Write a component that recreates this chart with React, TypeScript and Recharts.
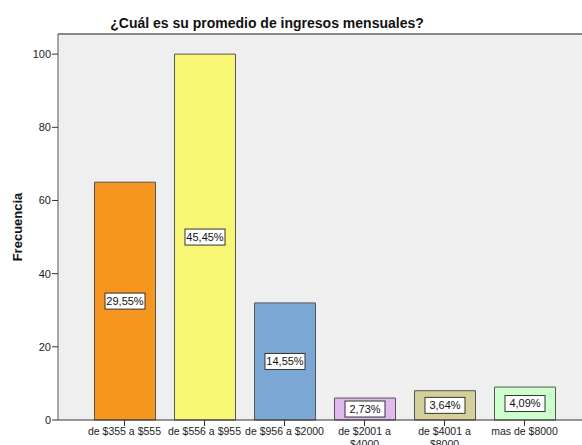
import React from 'react';
import { BarChart, Bar, XAxis, YAxis, CartesianGrid, Cell, LabelList, ReferenceLine } from 'recharts';

const categories = [
  'de $355 a $555',
  'de $556 a $955',
  'de $956 a $2000',
  'de $2001 a $4000',
  'de $4001 a $8000',
  'mas de $8000',
];
const frequencies = [65, 100, 32, 6, 8, 9];
const barColors = ['#F7961E', '#F9F675', '#7BA7D5', '#E0B9EF', '#D5CF99', '#CCFFCC'];
const yTicks = [0, 20, 40, 60, 80, 100];

const total = frequencies.reduce((a, b) => a + b, 0);
const data = categories.map((name, i) => ({
  name,
  value: frequencies[i],
  pct: ((frequencies[i] / total) * 100).toFixed(2).replace('.', ',') + '%',
}));

const FONT = '"Liberation Sans", Arial, sans-serif';

const XTick = (props: any) => {
  const { x, y, payload } = props;
  const words = String(payload.value).split(' ');
  const lines = payload.value.length > 15
    ? [words.slice(0, -1).join(' '), words[words.length - 1]]
    : [payload.value];
  return (
    <text x={x} y={y} textAnchor="middle" fontSize={10.5} fill="#222" fontFamily={FONT}>
      {lines.map((l: string, i: number) => (
        <tspan key={i} x={x} dy={i === 0 ? '0.71em' : '1.15em'}>{l}</tspan>
      ))}
    </text>
  );
};

const PctLabel = (props: any) => {
  const { x, y, width, height, index } = props;
  const cx = x + width / 2;
  const cy = y + height / 2;
  const w = 40;
  const h = 16;
  return (
    <g>
      <rect x={cx - w / 2} y={cy - h / 2} width={w} height={h} fill="#fff" stroke="#333" strokeWidth={1} />
      <text x={cx} y={cy} dy="0.35em" textAnchor="middle" fontSize={11} fill="#111" fontFamily={FONT}>
        {data[index].pct}
      </text>
    </g>
  );
};

const App = () => {
  return (
    <div style={{ position: 'absolute', left: 0, top: 0, width: 582, height: 445, overflow: 'hidden', background: '#fff', fontFamily: FONT }}>
      <div style={{ position: 'absolute', left: 0, top: 15, width: 534, textAlign: 'center', fontSize: 14, fontWeight: 'bold', color: '#111' }}>
        ¿Cuál es su promedio de ingresos mensuales?
      </div>
      <BarChart
        width={600}
        height={460}
        data={data}
        margin={{ top: 34, right: 9, left: 0, bottom: 0 }}
        barSize={61}
      >
        <CartesianGrid horizontal={false} vertical={false} fill="#EFEFEF" />
        <ReferenceLine y={105.5} stroke="#888" strokeWidth={2} />
        <XAxis
          dataKey="name"
          interval={0}
          height={40}
          padding={{ left: 26.5, right: 26.5 }}
          tick={<XTick />}
          tickSize={6}
          tickMargin={2}
          axisLine={{ stroke: '#333' }}
          tickLine={{ stroke: '#333' }}
        />
        <YAxis
          width={58}
          domain={[0, 105.5]}
          ticks={yTicks}
          tickSize={6}
          tickMargin={1}
          tick={{ fontSize: 11, fill: '#222', fontFamily: FONT }}
          axisLine={{ stroke: '#555' }}
          tickLine={{ stroke: '#333' }}
          label={{
            content: (p: any) => {
              const vb = p.viewBox;
              const lx = vb.x + 17;
              const ly = vb.y + vb.height / 2;
              return (
                <text x={lx} y={ly} transform={`rotate(-90, ${lx}, ${ly})`} textAnchor="middle" dy="0.35em" fontSize={13} fontWeight="bold" fill="#111" fontFamily={FONT}>
                  Frecuencia
                </text>
              );
            },
          }}
        />
        <Bar dataKey="value" stroke="#555" strokeWidth={1} isAnimationActive={false}>
          {data.map((d, i) => (
            <Cell key={d.name} fill={barColors[i]} />
          ))}
          <LabelList dataKey="pct" content={<PctLabel />} />
        </Bar>
      </BarChart>
    </div>
  );
};

export default App;
